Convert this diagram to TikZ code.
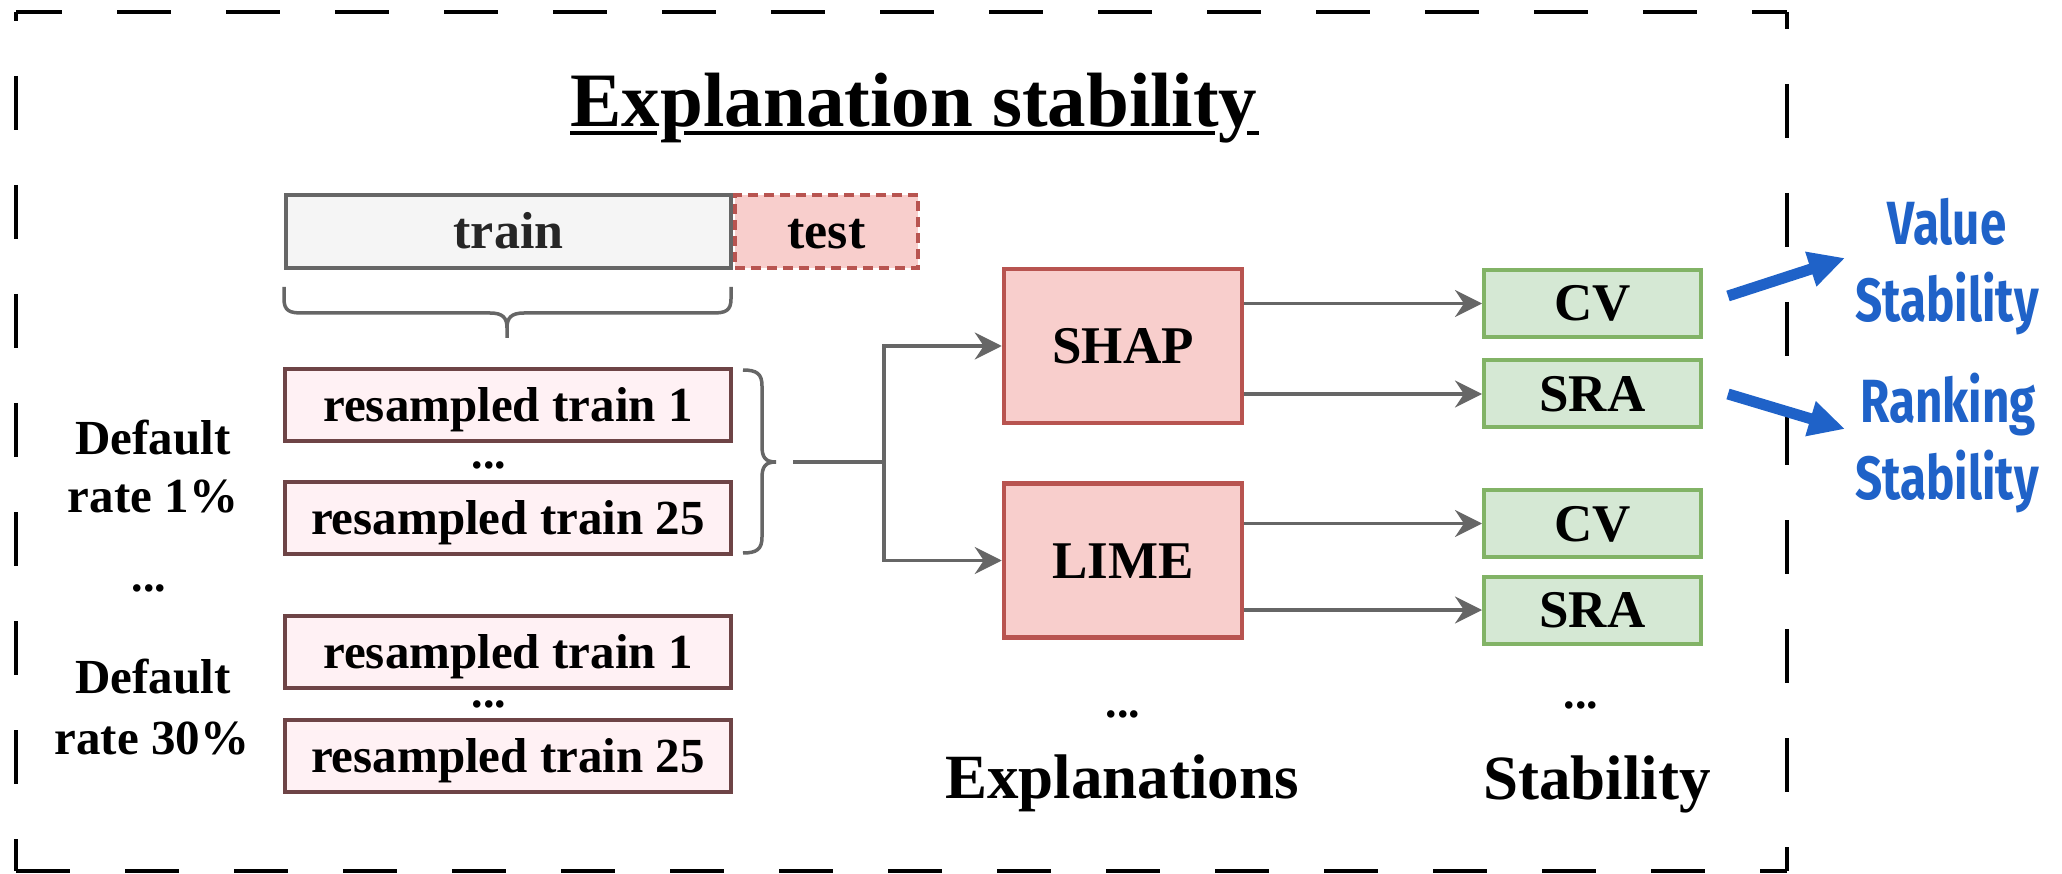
\documentclass[tikz,border=0pt]{standalone}
\usepackage{fontspec}
\setmainfont{Liberation Serif}
\newfontfamily\bluefont{Fira Sans}
\usetikzlibrary{arrows.meta}
\definecolor{rsborder}{RGB}{110,68,70}
\definecolor{rsfill}{RGB}{255,241,244}
\definecolor{redfill}{HTML}{F8CECC}
\definecolor{redline}{HTML}{B85450}
\definecolor{grnfill}{HTML}{D5E8D4}
\definecolor{grnline}{HTML}{82B366}
\definecolor{graytone}{HTML}{666666}
\definecolor{trfill}{HTML}{F5F5F5}
\definecolor{myblue}{RGB}{31,98,200}
\begin{document}
\begin{tikzpicture}[x=1pt,y=-1pt,
  every node/.style={inner sep=0pt},
  frameline/.style={line width=4pt, dash pattern=on 54pt off 55pt},
  trainbox/.style={draw=graytone, fill=trfill, line width=4pt, minimum width=445pt, minimum height=73pt,
    font=\fontsize{52}{58}\selectfont\bfseries, text=black!85, text height=34pt, text depth=0pt},
  testbox/.style={draw=redline, fill=redfill, line width=4pt, dash pattern=on 10pt off 6pt, minimum width=183pt, minimum height=73pt,
    font=\fontsize{52}{58}\selectfont\bfseries, text height=34pt, text depth=0pt},
  rsbox/.style={draw=rsborder, fill=rsfill, line width=4pt, minimum width=446pt, minimum height=72pt,
    font=\fontsize{49}{55}\selectfont\bfseries, text height=32pt, text depth=0pt},
  expbox/.style={draw=redline, fill=redfill, line width=4.5pt, minimum width=238pt, minimum height=154pt,
    font=\fontsize{53}{58}\selectfont\bfseries, text height=35pt, text depth=0pt},
  stbox/.style={draw=grnline, fill=grnfill, line width=4pt, minimum width=217pt, minimum height=67pt,
    font=\fontsize{53}{58}\selectfont\bfseries, text height=35pt, text depth=0pt},
  lbl/.style={anchor=base, font=\fontsize{49}{55}\selectfont\bfseries},
  dots/.style={anchor=base, font=\fontsize{46}{50}\selectfont\bfseries, text height=7pt, text depth=0pt},
  biglbl/.style={anchor=base, font=\fontsize{63}{70}\selectfont\bfseries},
  bluelbl/.style={anchor=base, text=myblue, font=\fontsize{61}{66}\bluefont\bfseries},
  brc/.style={draw=graytone, line width=3.5pt},
  garrow/.style={draw=graytone, line width=3.5pt, -{Stealth[length=27pt, width=27pt, inset=9pt]}},
  barrow/.style={draw=myblue, line width=11pt, -{Triangle[length=36pt, width=34pt]}}
]
\useasboundingbox (0,0) rectangle (2062,874);

% dashed frame
\draw[frameline, dash phase=8pt] (16,12) -- (1787,12);
\draw[frameline, dash phase=37pt] (1787,12) -- (1787,871);
\draw[frameline, dash phase=0pt] (16,871) -- (1787,871);
\draw[frameline, dash phase=45pt] (16,12) -- (16,871);

% title
\node[anchor=base, font=\fontsize{77}{82}\selectfont\bfseries] (title) at (914,127) {Explanation stability};
\draw[line width=4pt] (570,133) -- (657,133);
\draw[line width=4pt] (684,133) -- (1215,133);
\draw[line width=4pt] (1247,133) -- (1259,133);

% train / test
\node[trainbox] (train) at (508.5,231.5) {train};
\node[testbox] (test) at (826.5,231.5) {test};

% brace under train
\draw[brc] (284,287) -- (284,299) .. controls (284,311) and (290,313) .. (302,313)
  -- (490,313) .. controls (503,313) and (507,318) .. (507,328) -- (507,338);
\draw[brc] (731,287) -- (731,299) .. controls (731,311) and (725,313) .. (713,313)
  -- (524,313) .. controls (511,313) and (507,318) .. (507,328);

% resampled boxes
\node[rsbox] (r1) at (508,405) {resampled train 1};
\node[rsbox] (r2) at (508,518) {resampled train 25};
\node[rsbox] (r3) at (508,652) {resampled train 1};
\node[rsbox] (r4) at (508,756) {resampled train 25};
\node[dots] (d1) at (489,468) {...};
\node[dots] (d2) at (489,707) {...};

% left labels
\node[lbl] (l1a) at (153,454) {Default};
\node[lbl] (l1b) at (153,512) {rate 1\%};
\node[dots] (ld) at (149,591) {...};
\node[lbl] (l2a) at (153,693) {Default};
\node[lbl] (l2b) at (152,754) {rate 30\%};

% right brace of group 1
\draw[brc] (743,370) .. controls (757,370) and (762,374) .. (762,386) -- (762,446)
  .. controls (762,457) and (765,462) .. (776,462);
\draw[brc] (743,553) .. controls (757,553) and (762,549) .. (762,537) -- (762,478)
  .. controls (762,467) and (765,462) .. (776,462);

% explanation boxes
\node[expbox] (shap) at (1123,346) {SHAP};
\node[expbox] (lime) at (1123,560.5) {LIME};

\coordinate (merge) at (793,462);
\coordinate (split) at (884,462);
\draw[draw=graytone, line width=3.5pt] (merge) -- (split);
\draw[garrow] (split) |- (shap.west);
\draw[garrow] (split) |- (lime.west);

% stability boxes
\node[stbox] (cv1) at (1592.5,303.5) {CV};
\node[stbox] (sra1) at (1592.5,394) {SRA};
\node[stbox] (cv2) at (1592.5,523.5) {CV};
\node[stbox] (sra2) at (1592.5,610) {SRA};

\draw[garrow] (shap.east |- cv1.west) -- (cv1.west);
\draw[garrow] (shap.east |- sra1.west) -- (sra1.west);
\draw[garrow] (lime.east |- cv2.west) -- (cv2.west);
\draw[garrow] (lime.east |- sra2.west) -- (sra2.west);

% bottom labels
\node[dots] (ed) at (1123,717) {...};
\node[dots] (sd) at (1581,708) {...};
\node[biglbl] (expl) at (1122,798) {Explanations};
\node[biglbl] (stab) at (1597,799) {Stability};

% blue labels
\node[bluelbl] (vs1) at (1947,245) {\scalebox{0.78}[1]{Value}};
\node[bluelbl] (vs2) at (1947,322) {\scalebox{0.78}[1]{Stability}};
\node[bluelbl] (rs1) at (1948,423) {\scalebox{0.78}[1]{Ranking}};
\node[bluelbl] (rs2) at (1947,499) {\scalebox{0.78}[1]{Stability}};

\coordinate (b1s) at (1728,296);
\coordinate (b1e) at (1845,258);
\coordinate (b2s) at (1728,394);
\coordinate (b2e) at (1845,429);
\draw[barrow] (b1s) -- (b1e);
\draw[barrow] (b2s) -- (b2e);
\end{tikzpicture}
\end{document}
